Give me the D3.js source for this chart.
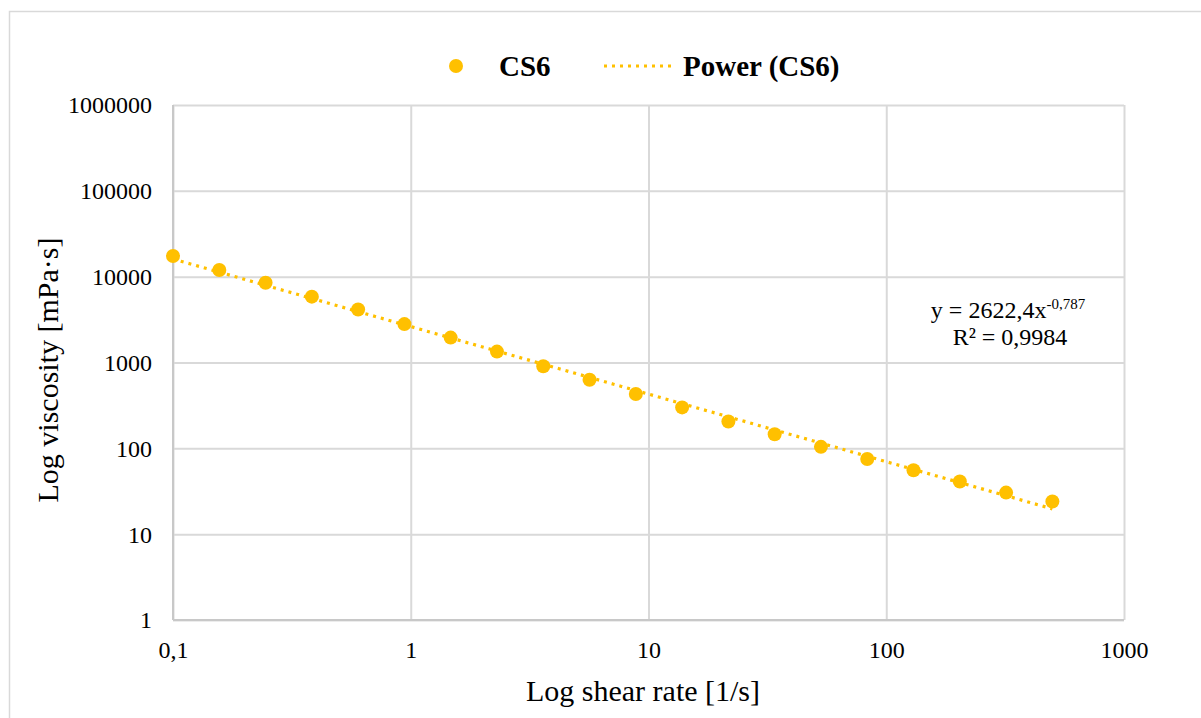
<!DOCTYPE html>
<html>
<head>
<meta charset="utf-8">
<script src="https://cdn.jsdelivr.net/npm/d3@7"></script>
<style>
  html, body { margin: 0; padding: 0; background: #ffffff; }
  svg { display: block; font-family: "Liberation Serif", "Times New Roman", serif; }
</style>
</head>
<body>
<svg id="chart" width="1201" height="718"></svg>
<script>
// ---- data ----
const shearRate = [0.1, 0.1566, 0.2451, 0.3837, 0.6007, 0.9405, 1.472, 2.305, 3.609, 5.650,
                   8.845, 13.85, 21.68, 33.94, 53.13, 83.18, 130.2, 203.9, 319.2, 499.7];
const viscosity = [17400, 11950, 8500, 5850, 4150, 2800, 1950, 1340, 905, 630,
                   430, 300, 205, 146, 104, 75, 55.5, 41, 30.5, 24];
const xTicks = [0.1, 1, 10, 100, 1000];
const xTickLabels = ["0,1", "1", "10", "100", "1000"];
const yTicks = [1, 10, 100, 1000, 10000, 100000, 1000000];
const yTickLabels = ["1", "10", "100", "1000", "10000", "100000", "1000000"];
const fitCoef = 2622.4;
const fitExp = -0.787;
const seriesName = "CS6";
const trendName = "Power (CS6)";
const eqText = "y = 2622,4x";
const eqSup = "-0,787";
const r2Text = "R² = 0,9984";
const xTitle = "Log shear rate [1/s]";
const yTitle = "Log viscosity [mPa·s]";

// ---- layout ----
const W = 1201, H = 718;
const plot = { left: 173, right: 1124, top: 105, bottom: 620 };
const color = "#FFC000";
const gridColor = "#d9d9d9";

const svg = d3.select("#chart");

// outer chart border
svg.append("rect")
  .attr("x", 9.5).attr("y", 11.5)
  .attr("width", W + 10).attr("height", H + 10)
  .attr("fill", "#fff").attr("stroke", "#d9d9d9").attr("stroke-width", 1.5);

const x = d3.scaleLog().domain([0.1, 1000]).range([plot.left, plot.right]);
const y = d3.scaleLog().domain([1, 1000000]).range([plot.bottom, plot.top]);

// gridlines
const gx = svg.append("g").attr("transform", `translate(0,${plot.bottom})`)
  .call(d3.axisBottom(x).tickValues(xTicks).tickSize(-(plot.bottom - plot.top)).tickFormat(""));
gx.select(".domain").remove();
gx.selectAll("line").attr("stroke", gridColor).attr("stroke-width", 2);

const gy = svg.append("g").attr("transform", `translate(${plot.left},0)`)
  .call(d3.axisLeft(y).tickValues(yTicks).tickSize(-(plot.right - plot.left)).tickFormat(""));
gy.select(".domain").remove();
gy.selectAll("line").attr("stroke", gridColor).attr("stroke-width", 2);

// axis lines
svg.append("line").attr("x1", plot.left).attr("x2", plot.left)
  .attr("y1", plot.top).attr("y2", plot.bottom)
  .attr("stroke", "#c8c8c8").attr("stroke-width", 2);
svg.append("line").attr("x1", plot.left).attr("x2", plot.right)
  .attr("y1", plot.bottom).attr("y2", plot.bottom)
  .attr("stroke", "#c8c8c8").attr("stroke-width", 2);

// tick labels
const xl = svg.append("g").attr("transform", `translate(0,${plot.bottom})`)
  .call(d3.axisBottom(x).tickValues(xTicks).tickSize(0).tickPadding(0)
    .tickFormat((d, i) => xTickLabels[i]));
xl.select(".domain").remove();
xl.selectAll("text").attr("y", 38).attr("dy", 0)
  .attr("font-family", "Liberation Serif").attr("font-size", 24).attr("fill", "#000");

const yl = svg.append("g").attr("transform", `translate(${plot.left},0)`)
  .call(d3.axisLeft(y).tickValues(yTicks).tickSize(0).tickPadding(0)
    .tickFormat((d, i) => yTickLabels[i]));
yl.select(".domain").remove();
yl.selectAll("text").attr("x", -21).attr("dy", "0.33em")
  .attr("font-family", "Liberation Serif").attr("font-size", 24).attr("fill", "#000");

// trendline
const trendX = d3.range(0, 101).map(i => Math.pow(10, Math.log10(shearRate[0]) + i / 100 *
  (Math.log10(shearRate[shearRate.length - 1]) - Math.log10(shearRate[0]))));
svg.append("path")
  .datum(trendX)
  .attr("fill", "none").attr("stroke", color).attr("stroke-width", 3.2)
  .attr("stroke-dasharray", "3,5")
  .attr("d", d3.line().x(d => x(d)).y(d => y(fitCoef * Math.pow(d, fitExp))));

// points
svg.append("g").selectAll("circle")
  .data(shearRate.map((s, i) => [s, viscosity[i]]))
  .join("circle")
  .attr("cx", d => x(d[0])).attr("cy", d => y(d[1]))
  .attr("r", 7).attr("fill", color);

// equation
const eq = svg.append("text").attr("x", 1008).attr("y", 318)
  .attr("text-anchor", "middle").attr("font-size", 24).attr("fill", "#000");
eq.append("tspan").text(eqText);
eq.append("tspan").attr("font-size", 15).attr("dy", -9).text(eqSup);
svg.append("text").attr("x", 1010).attr("y", 345)
  .attr("text-anchor", "middle").attr("font-size", 24).attr("fill", "#000").text(r2Text);

// axis titles
svg.append("text").attr("x", 643).attr("y", 701).attr("text-anchor", "middle")
  .attr("font-size", 30).attr("fill", "#000").text(xTitle);
svg.append("text").attr("transform", "translate(58,370) rotate(-90)")
  .attr("text-anchor", "middle").attr("font-size", 30).attr("fill", "#000").text(yTitle);

// legend
svg.append("circle").attr("cx", 456).attr("cy", 66).attr("r", 7).attr("fill", color);
svg.append("text").attr("x", 499).attr("y", 76).attr("font-size", 29)
  .attr("font-weight", "bold").attr("fill", "#000").text(seriesName);
svg.append("line").attr("x1", 604).attr("x2", 676).attr("y1", 66).attr("y2", 66)
  .attr("stroke", color).attr("stroke-width", 3.2).attr("stroke-dasharray", "3,5");
svg.append("text").attr("x", 683).attr("y", 76).attr("font-size", 29)
  .attr("font-weight", "bold").attr("fill", "#000").text(trendName);
</script>
</body>
</html>
